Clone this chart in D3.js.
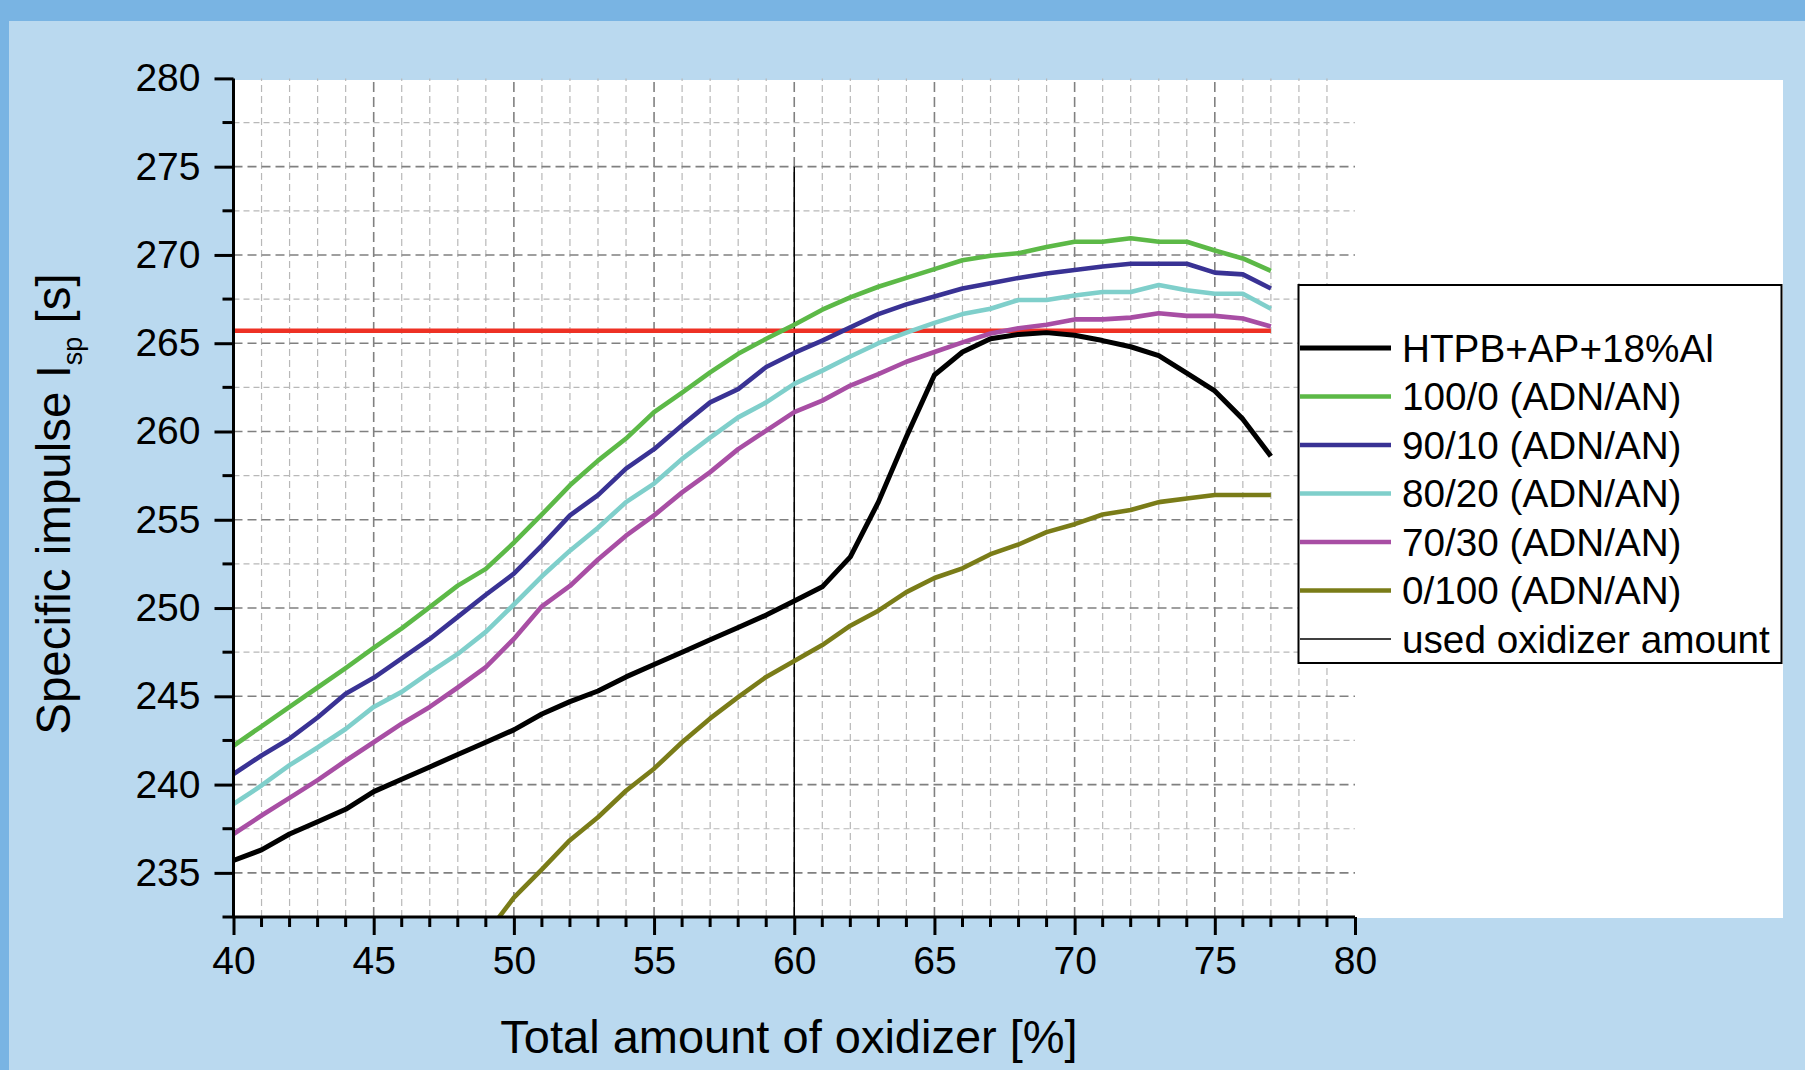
<!DOCTYPE html>
<html>
<head>
<meta charset="utf-8">
<script src="https://cdn.jsdelivr.net/npm/d3@7"></script>
<style>
  body { margin: 0; background: #bad9ef; }
  text { font-family: "Liberation Sans", Arial, sans-serif; fill: #000; }
</style>
</head>
<body>
<script>
// oxidizer amount [%]
var oxidizer = [40,41,42,43,44,45,46,47,48,49,50,51,52,53,54,55,56,57,58,59,
                60,61,62,63,64,65,66,67,68,69,70,71,72,73,74,75,76,77];

var htpb = [235.7,236.3,237.2,237.9,238.6,239.6,240.3,241.0,241.7,242.4,
            243.1,244.0,244.7,245.3,246.1,246.8,247.5,248.2,248.9,249.6,
            250.4,251.2,252.9,256.0,259.7,263.2,264.5,265.25,265.5,265.6,
            265.45,265.15,264.8,264.3,263.3,262.3,260.7,258.6];
var adn100 = [242.2,243.3,244.4,245.5,246.6,247.75,248.85,250.05,251.27,252.22,
              253.7,255.3,256.95,258.35,259.6,261.1,262.2,263.35,264.4,265.25,
              266.05,266.9,267.6,268.2,268.7,269.2,269.7,269.95,270.1,270.45,
              270.75,270.75,270.95,270.75,270.75,270.25,269.8,269.1];
var adn90 = [240.6,241.65,242.6,243.8,245.15,246.05,247.15,248.25,249.5,250.75,
             251.95,253.55,255.25,256.4,257.9,259.0,260.35,261.65,262.4,263.65,
             264.45,265.15,265.9,266.65,267.2,267.65,268.1,268.4,268.7,268.95,
             269.15,269.35,269.5,269.5,269.5,269.0,268.9,268.1];
var adn80 = [238.9,239.95,241.1,242.1,243.15,244.4,245.25,246.35,247.4,248.65,
             250.2,251.8,253.25,254.55,256.0,257.05,258.45,259.65,260.8,261.65,
             262.7,263.45,264.25,265.0,265.6,266.15,266.65,266.95,267.45,267.45,
             267.7,267.9,267.9,268.3,268.0,267.8,267.8,266.95];
var adn70 = [237.2,238.25,239.25,240.25,241.35,242.4,243.45,244.4,245.5,246.65,
             248.25,250.1,251.25,252.75,254.1,255.25,256.55,257.7,259.0,260.05,
             261.1,261.75,262.6,263.25,263.95,264.5,265.05,265.55,265.85,266.05,
             266.35,266.35,266.45,266.7,266.55,266.55,266.4,265.95];
var adn0 = [null,null,null,null,null,null,null,null,null,231.5,
            233.6,235.2,236.85,238.15,239.65,240.9,242.4,243.75,244.95,246.1,
            247.0,247.9,249.0,249.85,250.9,251.7,252.25,253.05,253.6,254.3,
            254.75,255.3,255.55,256.0,256.2,256.4,256.4,256.4];

var referenceIsp = 265.7;     // red line
var usedOxidizer = 60;        // thin vertical line
var usedOxidizerTop = 275;

var seriesNames = ["HTPB+AP+18%Al","100/0 (ADN/AN)","90/10 (ADN/AN)","80/20 (ADN/AN)",
                   "70/30 (ADN/AN)","0/100 (ADN/AN)","used oxidizer amount"];
var seriesColors = ["#000000","#5cb947","#393294","#7fcfcb","#a84ea4","#7a7c18","#000000"];
var seriesValues = [htpb, adn100, adn90, adn80, adn70, adn0];

var xTicks = [40,45,50,55,60,65,70,75,80];
var yTicks = [235,240,245,250,255,260,265,270,275,280];

var W = 1805, H = 1070;
var svg = d3.select("body").append("svg").attr("width", W).attr("height", H);

// background bands
svg.append("rect").attr("x",0).attr("y",0).attr("width",W).attr("height",H).attr("fill","#bad9ef");
svg.append("rect").attr("x",0).attr("y",0).attr("width",W).attr("height",21).attr("fill","#79b4e3");
svg.append("rect").attr("x",0).attr("y",0).attr("width",9).attr("height",H).attr("fill","#79b4e3");
svg.append("rect").attr("x",233.5).attr("y",80).attr("width",1783-233.5).attr("height",918-80).attr("fill","#ffffff");

var x = d3.scaleLinear().domain([40,80]).range([233.5,1355]);
var y = d3.scaleLinear().domain([232.5,280]).range([917,78.4]);

// grid
var grid = svg.append("g");
var xMinor = d3.range(41,80).filter(function(v){ return v % 5 != 0; });
var yMinor = [237.5,242.5,247.5,252.5,257.5,262.5,267.5,272.5,277.5];

grid.selectAll(".vmin").data(xMinor).enter().append("line")
  .attr("x1", function(d){return x(d);}).attr("x2", function(d){return x(d);})
  .attr("y1", y(232.5)).attr("y2", y(280))
  .style("stroke","#b8b8b8").style("stroke-width",1.2).style("stroke-dasharray","7,4");
grid.selectAll(".hmin").data(yMinor).enter().append("line")
  .attr("x1", x(40)).attr("x2", x(80))
  .attr("y1", function(d){return y(d);}).attr("y2", function(d){return y(d);})
  .style("stroke","#b8b8b8").style("stroke-width",1.2).style("stroke-dasharray","6,4");
grid.selectAll(".vmaj").data(xTicks.slice(1,8)).enter().append("line")
  .attr("x1", function(d){return x(d);}).attr("x2", function(d){return x(d);})
  .attr("y1", y(232.5)).attr("y2", y(280))
  .style("stroke","#808080").style("stroke-width",1.6).style("stroke-dasharray","10,5");
grid.selectAll(".hmaj").data(yTicks.slice(0,9)).enter().append("line")
  .attr("x1", x(40)).attr("x2", x(80))
  .attr("y1", function(d){return y(d);}).attr("y2", function(d){return y(d);})
  .style("stroke","#808080").style("stroke-width",1.6).style("stroke-dasharray","9,5");

// clip for curves
svg.append("clipPath").attr("id","plotclip").append("rect")
  .attr("x", x(40)).attr("y", y(280)).attr("width", x(80)-x(40)).attr("height", y(232.5)-y(280));

var plot = svg.append("g").attr("clip-path","url(#plotclip)");

// reference lines
plot.append("line")
  .attr("x1", x(usedOxidizer)).attr("x2", x(usedOxidizer))
  .attr("y1", y(232.5)).attr("y2", y(usedOxidizerTop))
  .style("stroke","#000").style("stroke-width",1.5);
plot.append("line")
  .attr("x1", x(40)).attr("x2", x(77))
  .attr("y1", y(referenceIsp)).attr("y2", y(referenceIsp))
  .style("stroke","#ee3124").style("stroke-width",4.5);

var line = d3.line()
  .defined(function(d){ return d[1] != null; })
  .x(function(d){ return x(d[0]); })
  .y(function(d){ return y(d[1]); });

seriesValues.forEach(function(vals, i){
  var pts = oxidizer.map(function(o, k){ return [o, vals[k]]; });
  plot.append("path").attr("d", line(pts))
    .attr("fill","none")
    .style("stroke", seriesColors[i])
    .style("stroke-width", i == 0 ? 5 : 4.6)
    .style("stroke-linejoin","round");
});

// axes
var xAxis = d3.axisBottom(x).tickValues(xTicks).tickSize(18).tickPadding(11).tickFormat(d3.format("d"));
var gx = svg.append("g").attr("transform","translate(0," + y(232.5) + ")").call(xAxis);
gx.append("g").selectAll("line").data(xMinor).enter().append("line")
  .attr("x1", function(d){return x(d);}).attr("x2", function(d){return x(d);})
  .attr("y1", 0).attr("y2", 10).style("stroke","#000").style("stroke-width",3);

var yAxis = d3.axisLeft(y).tickValues(yTicks).tickSize(19).tickPadding(14).tickFormat(d3.format("d"));
var gy = svg.append("g").attr("transform","translate(" + x(40) + ",0)").call(yAxis);
gy.append("g").selectAll("line").data([232.5].concat(yMinor)).enter().append("line")
  .attr("y1", function(d){return y(d);}).attr("y2", function(d){return y(d);})
  .attr("x1", 0).attr("x2", -11).style("stroke","#000").style("stroke-width",3);

[gx, gy].forEach(function(g){
  g.select(".domain").style("stroke","#000").style("stroke-width",3);
  g.selectAll(".tick line").style("stroke","#000").style("stroke-width",3);
  g.selectAll(".tick text").style("font-family","'Liberation Sans', Arial, sans-serif")
    .style("font-size","39px").style("fill","#000");
});
gx.select(".domain").attr("d", "M" + x(40) + ",0H" + x(80));
gy.select(".domain").attr("d", "M0," + y(232.5) + "V" + y(280));

// axis titles
svg.append("text").attr("x", 789).attr("y", 1053)
  .attr("text-anchor","middle").style("font-size","47px")
  .text("Total amount of oxidizer [%]");

var yt = svg.append("text").attr("transform","translate(70,504) rotate(-90)")
  .attr("text-anchor","middle").style("font-size","47.5px");
yt.append("tspan").text("Specific impulse I");
yt.append("tspan").attr("dy", 12).style("font-size","27px").text("sp");
yt.append("tspan").attr("dy", -12).text(" [s]");

// legend
var lg = svg.append("g");
lg.append("rect").attr("x",1298.5).attr("y",285).attr("width",483).attr("height",378)
  .attr("fill","#fff").style("stroke","#000").style("stroke-width",2);
var legendY = d3.scaleLinear().domain([0,6]).range([348,639]);
seriesNames.forEach(function(name, i){
  var yy = legendY(i);
  lg.append("line").attr("x1",1300).attr("x2",1391).attr("y1",yy).attr("y2",yy)
    .style("stroke", seriesColors[i])
    .style("stroke-width", i == 6 ? 1.5 : (i == 0 ? 5 : 4.6));
  lg.append("text").attr("x",1402).attr("y",yy + 13.5)
    .style("font-size","38.7px").text(name);
});
</script>
</body>
</html>
